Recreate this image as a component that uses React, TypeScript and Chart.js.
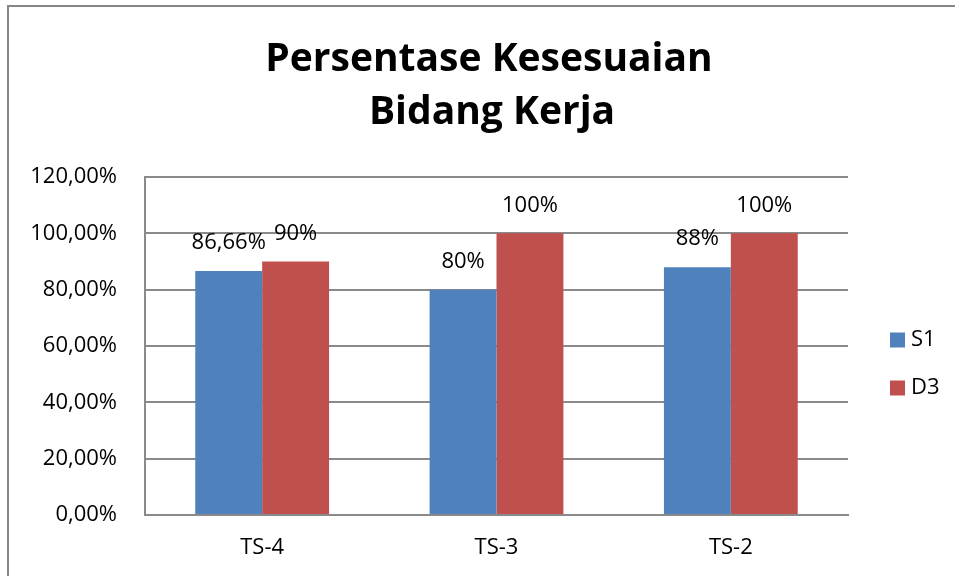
import React, { useEffect, useRef } from "react";
import { Chart, registerables } from "chart.js";

Chart.register(...registerables);

const categories = ["TS-4", "TS-3", "TS-2"];
const s1Values = [86.66, 80, 88];
const d3Values = [90, 100, 100];
const seriesNames = ["S1", "D3"];
const titleLines = ["Persentase Kesesuaian", "Bidang Kerja"];
const yTicks = [0, 20, 40, 60, 80, 100, 120];

const FONT = "'Open Sans', Lato, sans-serif";
const GRID = "#8a8a8a";
const TXT = 22;

function fmtLabel(v: number) {
  return Number.isInteger(v) ? `${v}%` : `${v.toFixed(2).replace(".", ",")}%`;
}

const overlayPlugin = {
  id: "overlay",
  afterDraw(chart: any) {
    const ctx = chart.ctx;
    ctx.save();
    // title
    ctx.fillStyle = "#000";
    ctx.textAlign = "center";
    ctx.textBaseline = "alphabetic";
    ctx.font = `bold 39px ${FONT}`;
    ctx.fillText(titleLines[0], 489, 71);
    ctx.fillText(titleLines[1], 492, 124);

    // data labels
    ctx.font = `${TXT}px ${FONT}`;
    ctx.textBaseline = "middle";
    chart.data.datasets.forEach((ds: any, i: number) => {
      const meta = chart.getDatasetMeta(i);
      meta.data.forEach((el: any, j: number) => {
        ctx.fillText(fmtLabel(ds.data[j]), el.x, el.y - 28);
      });
    });

    // legend
    const ys = [340, 388];
    chart.data.datasets.forEach((ds: any, i: number) => {
      ctx.fillStyle = ds.backgroundColor;
      ctx.fillRect(890, ys[i] - 7.5, 15, 15);
      ctx.fillStyle = "#000";
      ctx.textAlign = "left";
      ctx.fillText(ds.label, 911, ys[i]);
    });
    ctx.restore();
  },
};

export default function App() {
  const ref = useRef<HTMLCanvasElement>(null);
  useEffect(() => {
    const chart = new Chart(ref.current!, {
      type: "bar",
      data: {
        labels: categories,
        datasets: [
          { label: seriesNames[0], data: s1Values, backgroundColor: "#4F81BD" },
          { label: seriesNames[1], data: d3Values, backgroundColor: "#C0504D" },
        ],
      },
      options: {
        animation: false,
        responsive: false,
        layout: { padding: { top: 177, right: 107, bottom: 0, left: 0 } },
        plugins: {
          legend: { display: false },
          title: { display: false },
          tooltip: { enabled: false },
        },
        datasets: { bar: { categoryPercentage: 0.571, barPercentage: 1 } },
        scales: {
          x: {
            grid: { display: false, drawTicks: false },
            border: { color: GRID, width: 2 },
            ticks: { color: "#000", font: { family: FONT, size: TXT }, padding: 20 },
            afterFit: (s: any) => { s.height = 61; },
          },
          y: {
            min: 0,
            max: 120,
            afterBuildTicks: (s: any) => { s.ticks = yTicks.map((v) => ({ value: v })); },
            grid: { color: GRID, lineWidth: 2, drawTicks: false },
            border: { color: GRID, width: 2 },
            ticks: {
              color: "#000",
              font: { family: FONT, size: TXT },
              padding: 28,
              callback: (v: any) => `${Number(v).toFixed(2).replace(".", ",")}%`,
            },
            afterFit: (s: any) => { s.width = 145; },
          },
        },
      } as any,
      plugins: [overlayPlugin],
    });
    return () => chart.destroy();
  }, []);
  return (
    <div style={{ position: "fixed", left: 0, top: 0, width: 955, height: 576, background: "#fff" }}>
      <div
        style={{
          position: "absolute",
          left: 7,
          top: 5,
          width: 1000,
          height: 1000,
          borderLeft: "2px solid #868686",
          borderTop: "2px solid #868686",
          boxSizing: "border-box",
        }}
      />
      <canvas ref={ref} width={955} height={576} style={{ position: "absolute", left: 0, top: 0 }} />
    </div>
  );
}
